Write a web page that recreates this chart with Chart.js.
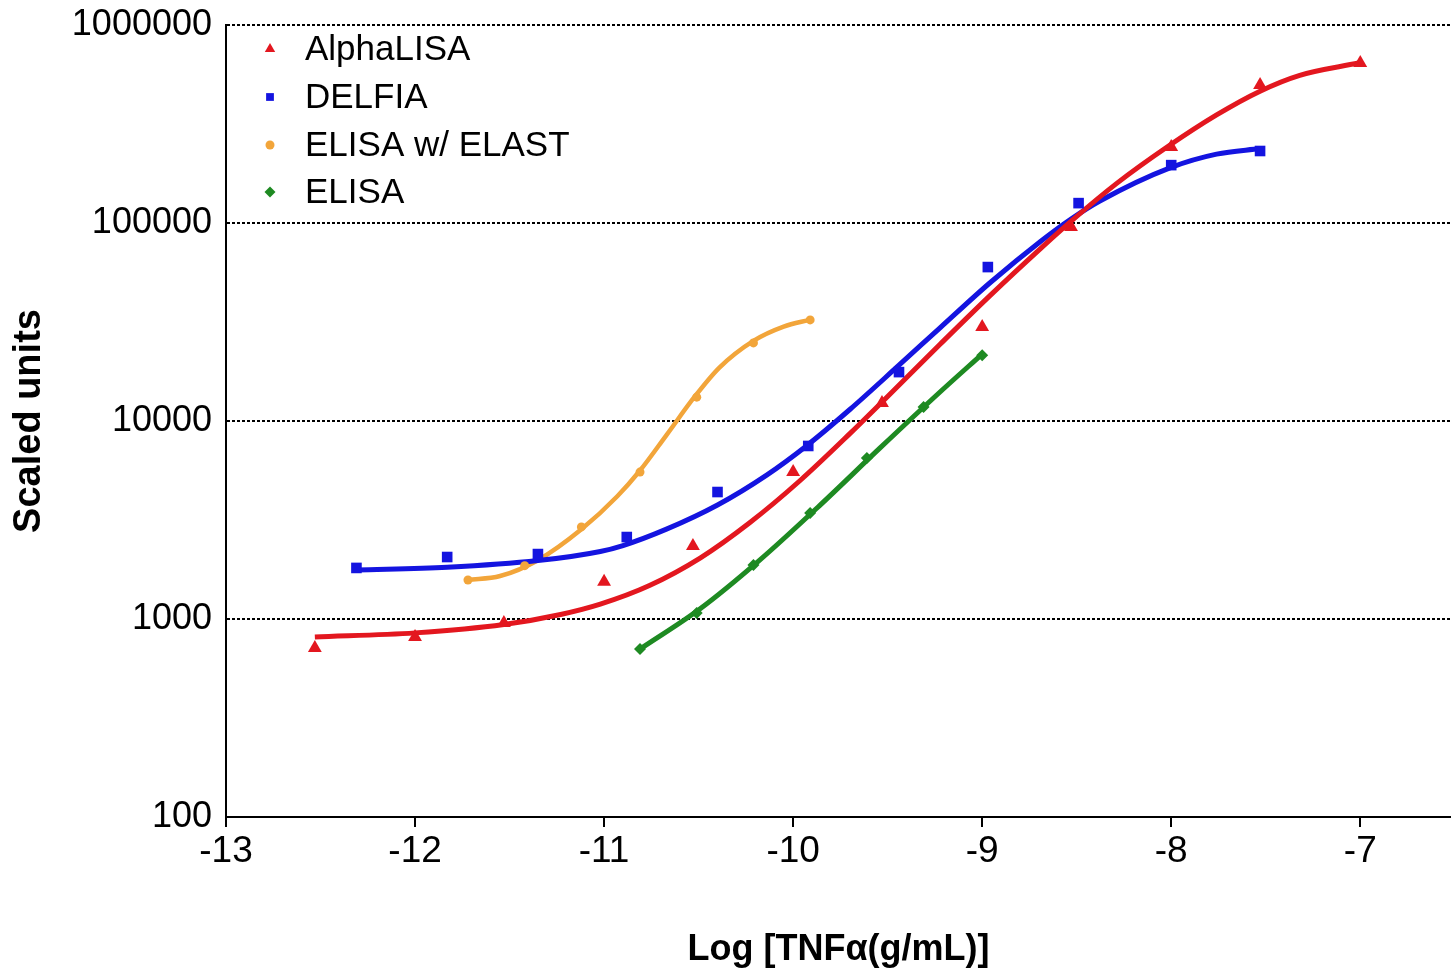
<!DOCTYPE html>
<html>
<head>
<meta charset="utf-8">
<title>TNFα dose–response</title>
<script src="https://cdn.jsdelivr.net/npm/chart.js@4.4.1/dist/chart.umd.min.js"></script>
<style>
  html, body { margin: 0; padding: 0; background: #ffffff; }
  #wrap { width: 1451px; height: 974px; }
  canvas { display: block; }
</style>
</head>
<body>
<div id="wrap"><canvas id="chart" width="1451" height="974"></canvas></div>
<script>
// ---- Axis ticks ----
const xTickValues = [-13, -12, -11, -10, -9, -8, -7];
const yTickValues = [100, 1000, 10000, 100000, 1000000];

// ---- Series names ----
const seriesNames = ['AlphaLISA', 'DELFIA', 'ELISA w/ ELAST', 'ELISA'];

// ---- Measured points: log concentration and signal ----
const alphaX = [-12.53, -12.0, -11.53, -11.0, -10.53, -10.0, -9.53, -9.0, -8.53, -8.0, -7.53, -7.0];
const alphaY = [714, 811, 955, 1540, 2340, 5520, 12340, 29850, 95500, 242000, 497000, 643000];

const delfiaX = [-12.31, -11.83, -11.35, -10.88, -10.40, -9.92, -9.44, -8.97, -8.49, -8.0, -7.53];
const delfiaY = [1811, 2056, 2128, 2594, 4378, 7480, 17660, 59900, 126000, 196000, 231000];

const elastX = [-11.72, -11.42, -11.12, -10.81, -10.51, -10.21, -9.91];
const elastY = [1574, 1860, 2917, 5520, 13200, 24800, 32400];

const elisaX = [-10.81, -10.51, -10.21, -9.91, -9.61, -9.31, -9.0];
const elisaY = [705, 1072, 1875, 3428, 6500, 11780, 21500];

// ---- Fitted curves, sampled along each fit ----
const alphaFitX = [-12.53, -12.0, -11.53, -11.23, -11.02, -10.76, -10.49, -10.23, -9.96, -9.70, -9.52, -9.22, -8.96, -8.69, -8.52, -8.29, -8.02, -7.76, -7.53, -7.32, -7.01];
const alphaFitY = [811, 851, 938, 1054, 1189, 1476, 2037, 3062, 5035, 8630, 12740, 24550, 42850, 74470, 104000, 158100, 242700, 351600, 463400, 557200, 642700];

const delfiaFitX = [-12.31, -11.83, -11.35, -11.02, -10.90, -10.67, -10.40, -10.14, -9.93, -9.70, -9.44, -9.22, -8.96, -8.69, -8.53, -8.38, -8.0, -7.76, -7.53];
const delfiaFitY = [1766, 1824, 1972, 2193, 2350, 2844, 3767, 5333, 7482, 11430, 19140, 29720, 49770, 80910, 104700, 128800, 191000, 222800, 237700];

const elastFitX = [-11.72, -11.55, -11.35, -11.12, -10.93, -10.81, -10.67, -10.52, -10.39, -10.21, -10.05, -9.91];
const elastFitY = [1574, 1648, 1982, 2838, 4169, 5623, 8492, 13300, 18620, 25410, 29990, 32510];

const elisaFitX = [-10.81, -10.49, -10.18, -9.86, -9.54, -9.22, -9.0];
const elisaFitY = [705, 1130, 1972, 3741, 7311, 14090, 21780];

// ---- Styling ----
const colors = ['#e3171f', '#1414e0', '#f2a53a', '#1e8a22'];
const pointStyles = ['triangle', 'rect', 'circle', 'rectRot'];
const pointRadii = [8, 7.5, 4.5, 6];
const lineWidths = [5, 5, 4.5, 5];
const FONT = '"Liberation Sans", Arial, Helvetica, sans-serif';

const zip = (xs, ys) => xs.map((x, i) => ({ x: x, y: ys[i] }));

const pointSets = [
  zip(alphaX, alphaY), zip(delfiaX, delfiaY), zip(elastX, elastY), zip(elisaX, elisaY)
];
const fitSets = [
  zip(alphaFitX, alphaFitY), zip(delfiaFitX, delfiaFitY), zip(elastFitX, elastFitY), zip(elisaFitX, elisaFitY)
];

const datasets = [];
// markers first so they sit above the curves
pointSets.forEach((pts, i) => {
  datasets.push({
    label: seriesNames[i],
    data: pts,
    showLine: false,
    pointStyle: pointStyles[i],
    pointRadius: pointRadii[i],
    pointBackgroundColor: colors[i],
    pointBorderColor: colors[i],
    pointBorderWidth: 0
  });
});
fitSets.forEach((pts, i) => {
  datasets.push({
    label: seriesNames[i] + ' fit',
    data: pts,
    showLine: true,
    borderColor: colors[i],
    borderWidth: lineWidths[i],
    pointRadius: 0,
    cubicInterpolationMode: 'monotone',
    fill: false
  });
});

// Legend drawn inside the plot's top-left corner
const insideLegend = {
  id: 'insideLegend',
  afterDraw(chart) {
    const ctx = chart.ctx;
    const area = chart.chartArea;
    const markerX = area.left + 44;
    const textX = area.left + 79;
    const rowY = [area.top + 24, area.top + 72, area.top + 120, area.top + 167];
    const legendRadii = [6, 5.5, 4.5, 5.5];
    ctx.save();
    ctx.font = '35px ' + FONT;
    ctx.textBaseline = 'middle';
    ctx.textAlign = 'left';
    seriesNames.forEach((name, i) => {
      ctx.fillStyle = colors[i];
      ctx.strokeStyle = colors[i];
      ctx.lineWidth = 0;
      Chart.helpers.drawPoint(ctx, { pointStyle: pointStyles[i], radius: legendRadii[i], borderWidth: 0 }, markerX, rowY[i]);
      ctx.fillStyle = '#000000';
      ctx.fillText(name, textX, rowY[i] + 1);
    });
    ctx.restore();
  }
};

new Chart(document.getElementById('chart'), {
  type: 'scatter',
  data: { datasets: datasets },
  plugins: [insideLegend],
  options: {
    responsive: false,
    animation: false,
    devicePixelRatio: 1,
    layout: { autoPadding: false, padding: { top: 25, left: 0, right: 0, bottom: 0 } },
    plugins: {
      legend: { display: false },
      tooltip: { enabled: false }
    },
    scales: {
      x: {
        type: 'linear',
        min: -13,
        max: -6.52,
        afterBuildTicks: (scale) => { scale.ticks = xTickValues.map(v => ({ value: v })); },
        afterFit: (scale) => {
          scale.height = 157;
          scale.paddingLeft = 0;
          scale.paddingRight = 0;
        },
        ticks: {
          color: '#000000',
          font: { family: FONT, size: 37 },
          padding: 3,
          maxRotation: 0,
          autoSkip: false,
          callback: (v) => String(v)
        },
        grid: { drawOnChartArea: false, drawTicks: true, tickLength: 10, color: '#000000', lineWidth: 2 },
        border: { display: true, color: '#000000', width: 2 },
        title: {
          display: true,
          text: 'Log [TNFα(g/mL)]',
          color: '#000000',
          font: { family: FONT, size: 36, weight: 'bold' },
          padding: { top: 0, bottom: 2 }
        }
      },
      y: {
        type: 'logarithmic',
        min: 100,
        max: 1000000,
        afterBuildTicks: (scale) => { scale.ticks = yTickValues.map(v => ({ value: v })); },
        afterFit: (scale) => {
          scale.width = 226;
          scale.paddingTop = 0;
          scale.paddingBottom = 0;
        },
        ticks: {
          color: '#000000',
          font: { family: FONT, size: 36 },
          padding: 14,
          autoSkip: false,
          callback: (v) => String(v)
        },
        grid: {
          drawTicks: false,
          lineWidth: 2,
          color: (c) => (c.tick && c.tick.value === 100 ? 'rgba(0,0,0,0)' : '#000000')
        },
        border: { display: true, color: '#000000', width: 2, dash: [3, 2] },
        title: {
          display: true,
          text: 'Scaled units',
          color: '#000000',
          font: { family: FONT, size: 38, weight: 'bold' },
          padding: { top: 7, bottom: 0 }
        }
      }
    }
  }
});
</script>
</body>
</html>
